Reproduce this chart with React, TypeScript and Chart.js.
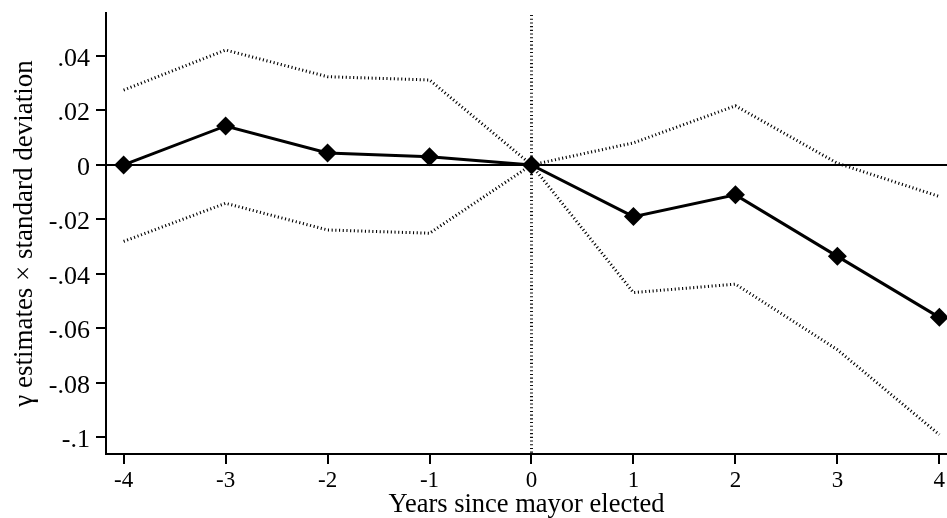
import React, { useEffect, useRef } from "react";
import { Chart, registerables } from "chart.js";

Chart.register(...registerables);

// ---- data ----
const years = [-4, -3, -2, -1, 0, 1, 2, 3, 4];
const estimates = [0, 0.0143, 0.0044, 0.003, 0, -0.019, -0.011, -0.0336, -0.056];
const upperCI = [0.0275, 0.0422, 0.0324, 0.0312, 0, 0.0081, 0.0217, 0.0006, -0.0116];
const lowerCI = [-0.0281, -0.0141, -0.0239, -0.0251, 0, -0.0469, -0.0438, -0.0679, -0.0991];
const xTicks = [-4, -3, -2, -1, 0, 1, 2, 3, 4];
const yTicks = [-0.1, -0.08, -0.06, -0.04, -0.02, 0, 0.02, 0.04];
const xRange = [-4.173, 4.075];
const yRange = [-0.1062, 0.0558];
const refX = 0;
const refY = 0;
const xTitle = "Years since mayor elected";
const yTitle = "γ estimates × standard deviation";

const FONT = "'Liberation Serif', 'Times New Roman', 'DejaVu Serif', serif";

function fmtY(v: number): string {
  const r = Math.round(v * 1000) / 1000;
  if (r === 0) return "0";
  let s = String(r);
  s = s.replace(/^(-?)0\./, "$1.");
  return s;
}

const refLines = {
  id: "refLines",
  beforeDatasetsDraw(chart: any) {
    const { ctx, chartArea, scales } = chart;
    const x0 = scales.x.getPixelForValue(refX);
    const y0 = scales.y.getPixelForValue(refY);
    ctx.save();
    // horizontal zero line
    ctx.strokeStyle = "#000";
    ctx.lineWidth = 2;
    ctx.setLineDash([]);
    ctx.beginPath();
    ctx.moveTo(chartArea.left, y0);
    ctx.lineTo(chartArea.right, y0);
    ctx.stroke();
    // vertical dotted line
    ctx.strokeStyle = "#111";
    ctx.lineWidth = 3;
    ctx.setLineDash([1.1, 2.6]);
    ctx.beginPath();
    ctx.moveTo(x0, chartArea.top + 2);
    ctx.lineTo(x0, chartArea.bottom);
    ctx.stroke();
    ctx.restore();
  },
};

export default function App() {
  const ref = useRef<HTMLCanvasElement | null>(null);
  useEffect(() => {
    if (!ref.current) return;
    const toXY = (arr: number[]) => years.map((x, i) => ({ x, y: arr[i] }));
    const ciStyle = {
      borderColor: "#000",
      borderWidth: 3,
      borderDash: [1.1, 2.6],
      pointRadius: 0,
      fill: false,
      tension: 0,
    };
    const chart = new Chart(ref.current, {
      type: "line",
      data: {
        datasets: [
          { data: toXY(upperCI), ...ciStyle },
          { data: toXY(lowerCI), ...ciStyle },
          {
            data: toXY(estimates),
            borderColor: "#000",
            borderWidth: 3,
            pointStyle: "rectRot",
            pointRadius: 9.5,
            pointBorderWidth: 0,
            pointBackgroundColor: "#000",
            pointBorderColor: "#000",
            fill: false,
            tension: 0,
            clip: false as any,
          },
        ],
      },
      options: {
        responsive: false,
        animation: false,
        events: [],
        layout: { autoPadding: false, padding: { top: 13, left: 0, right: 0, bottom: 0 } },
        plugins: { legend: { display: false }, tooltip: { enabled: false } },
        scales: {
          x: {
            type: "linear",
            min: xRange[0],
            max: xRange[1],
            afterBuildTicks: (s: any) => {
              s.ticks = xTicks.map((v) => ({ value: v }));
            },
            afterFit: (s: any) => {
              s.height = 64;
              s.paddingLeft = 0;
              s.paddingRight = 0;
            },
            grid: {
              display: true,
              drawOnChartArea: false,
              drawTicks: true,
              tickLength: 10,
              color: "#000",
              lineWidth: 2,
            },
            border: { display: true, color: "#000", width: 2 },
            ticks: {
              color: "#000",
              font: { family: FONT, size: 23, lineHeight: 1.2 },
              padding: 3,
              maxRotation: 0,
              autoSkip: false,
              callback: (v: any) => String(v),
            },
            title: {
              display: true,
              text: xTitle,
              color: "#000",
              font: { family: FONT, size: 26.5, lineHeight: 1 },
              padding: { top: 0, bottom: 0 },
            },
          },
          y: {
            type: "linear",
            min: yRange[0],
            max: yRange[1],
            afterBuildTicks: (s: any) => {
              s.ticks = yTicks.map((v) => ({ value: v }));
            },
            afterFit: (s: any) => {
              s.width = 106;
              s.paddingTop = 0;
              s.paddingBottom = 0;
            },
            grid: {
              display: true,
              drawOnChartArea: false,
              drawTicks: true,
              tickLength: 10,
              color: "#000",
              lineWidth: 2,
            },
            border: { display: true, color: "#000", width: 2 },
            ticks: {
              color: "#000",
              font: { family: FONT, size: 26, lineHeight: 1.2 },
              padding: 6,
              labelOffset: 3,
              autoSkip: false,
              callback: (v: any) => fmtY(Number(v)),
            },
            title: {
              display: true,
              text: yTitle,
              color: "#000",
              font: { family: FONT, size: 27, lineHeight: 1 },
              padding: { top: 11, bottom: 0 },
            },
          },
        },
      },
      plugins: [refLines],
    } as any);
    return () => chart.destroy();
  }, []);
  return (
    <div style={{ position: "fixed", left: 0, top: 0, width: 947, height: 518, background: "#fff" }}>
      <canvas ref={ref} width={947} height={518} style={{ display: "block" }} />
    </div>
  );
}
